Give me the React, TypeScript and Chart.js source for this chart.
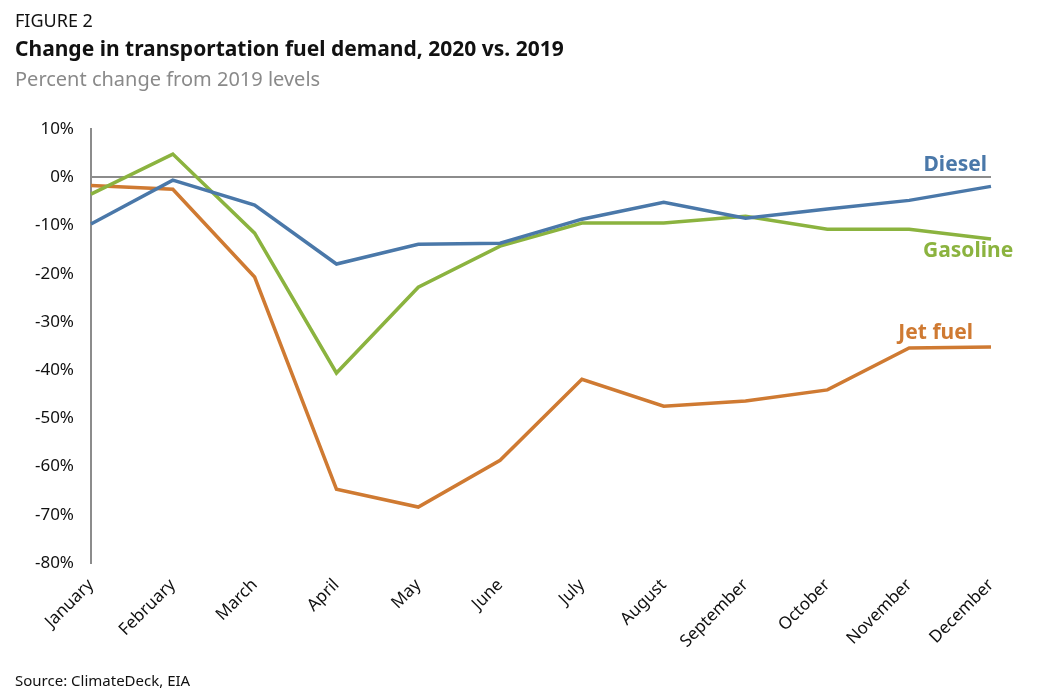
import React, { useEffect, useRef } from "react";
import { Chart, registerables } from "chart.js";

Chart.register(...registerables);

const months = ["January", "February", "March", "April", "May", "June", "July", "August", "September", "October", "November", "December"];
const diesel = [-9.7, -0.6, -5.8, -18.0, -13.9, -13.7, -8.7, -5.2, -8.5, -6.6, -4.8, -1.9];
const gasoline = [-3.5, 4.8, -11.6, -40.6, -22.8, -14.3, -9.5, -9.5, -8.1, -10.8, -10.8, -12.8];
const jetFuel = [-1.7, -2.5, -20.7, -64.7, -68.4, -58.7, -41.9, -47.5, -46.4, -44.1, -35.4, -35.2];
const seriesNames = ["Diesel", "Gasoline", "Jet fuel"];
const seriesColors = ["#4a78a9", "#8bb33f", "#cf7a32"];
const yMin = -80;
const yMax = 10;
const yStep = 10;

const FONT = "'Noto Sans', sans-serif";

const labelPlugin = {
  id: "seriesLabels",
  afterDatasetsDraw(chart: any) {
    const ctx = chart.ctx;
    const x = chart.scales.x;
    const y = chart.scales.y;
    const last = months.length - 1;
    const px = x.getPixelForValue(last);
    ctx.save();
    ctx.font = `bold 21px ${FONT}`;
    ctx.textBaseline = "middle";
    ctx.textAlign = "right";
    ctx.fillStyle = seriesColors[0];
    ctx.fillText(seriesNames[0], px - 4, y.getPixelForValue(diesel[last]) - 21);
    ctx.textAlign = "left";
    ctx.fillStyle = seriesColors[1];
    ctx.fillText(seriesNames[1], px - 68, y.getPixelForValue(gasoline[last]) + 12);
    ctx.textAlign = "right";
    ctx.fillStyle = seriesColors[2];
    ctx.fillText(seriesNames[2], px - 18, y.getPixelForValue(jetFuel[last]) - 14);
    ctx.restore();
  },
};

export default function App() {
  const ref = useRef<HTMLCanvasElement>(null);
  useEffect(() => {
    if (!ref.current) return;
    const chart = new Chart(ref.current, {
      type: "line",
      data: {
        labels: months,
        datasets: [
          { label: seriesNames[0], data: diesel, borderColor: seriesColors[0] },
          { label: seriesNames[1], data: gasoline, borderColor: seriesColors[1] },
          { label: seriesNames[2], data: jetFuel, borderColor: seriesColors[2] },
        ].map((d) => ({ ...d, borderWidth: 3.5, pointRadius: 0, tension: 0, fill: false })),
      },
      options: {
        animation: false,
        responsive: false,
        devicePixelRatio: 1,
        layout: { padding: { left: 0, right: 69, top: 129, bottom: 0 } },
        plugins: { legend: { display: false }, tooltip: { enabled: false } },
        scales: {
          x: {
            offset: false,
            grid: { display: false, drawTicks: false },
            border: { display: false },
            ticks: {
              minRotation: 45,
              maxRotation: 45,
              autoSkip: false,
              padding: 12,
              color: "#111",
              font: { family: FONT, size: 17 },
            },
            afterFit(scale: any) {
              scale.height = 137;
            },
          },
          y: {
            min: yMin,
            max: yMax,
            grid: {
              drawTicks: false,
              color: (c: any) => (c.tick && c.tick.value === 0 ? "#8c8c8c" : "rgba(0,0,0,0)"),
              lineWidth: 2,
            },
            border: { display: true, color: "#8c8c8c", width: 2 },
            ticks: {
              stepSize: yStep,
              padding: 17,
              color: "#111",
              font: { family: FONT, size: 17 },
              callback: (v: any) => `${v}%`,
            },
            afterFit(scale: any) {
              scale.width = 91;
            },
          },
        },
      },
      plugins: [labelPlugin],
    });
    return () => chart.destroy();
  }, []);

  return (
    <div style={{ position: "absolute", left: 0, top: 0, width: 1060, height: 700, background: "#fff", fontFamily: FONT }}>
      <canvas ref={ref} width={1060} height={700} style={{ position: "absolute", left: 0, top: 0 }} />
      <div style={{ position: "absolute", left: 15, top: 8, fontSize: 18, color: "#111" }}>FIGURE 2</div>
      <div style={{ position: "absolute", left: 15, top: 34, fontSize: 21, fontWeight: 700, color: "#111" }}>
        Change in transportation fuel demand, 2020 vs. 2019
      </div>
      <div style={{ position: "absolute", left: 15, top: 65, fontSize: 20, color: "#8a8a8a" }}>Percent change from 2019 levels</div>
      <div style={{ position: "absolute", left: 15, top: 670, fontSize: 15, color: "#111" }}>Source: ClimateDeck, EIA</div>
    </div>
  );
}
